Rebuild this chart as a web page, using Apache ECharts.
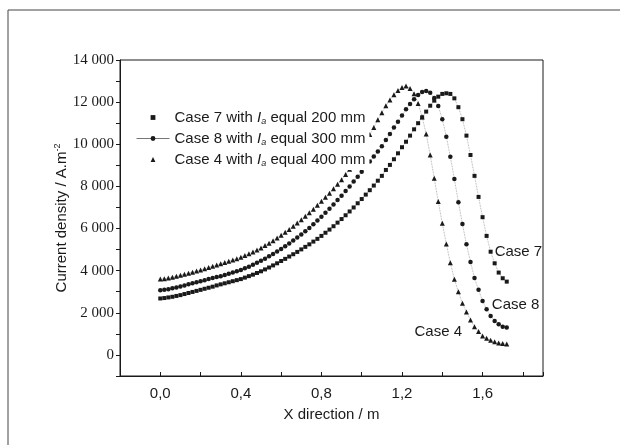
<!DOCTYPE html>
<html>
<head>
<meta charset="utf-8">
<script src="https://cdn.jsdelivr.net/npm/echarts@6/dist/echarts.min.js"></script>
<style>
  html, body { margin: 0; padding: 0; background: #fff; }
  #chart { width: 620px; height: 445px; }
</style>
</head>
<body>
<div id="chart"></div>
<script>
// x positions (m)
const xPos = [
  0.00, 0.02, 0.04, 0.06, 0.08, 0.10, 0.12, 0.14, 0.16, 0.18,
  0.20, 0.22, 0.24, 0.26, 0.28, 0.30, 0.32, 0.34, 0.36, 0.38,
  0.40, 0.42, 0.44, 0.46, 0.48, 0.50, 0.52, 0.54, 0.56, 0.58,
  0.60, 0.62, 0.64, 0.66, 0.68, 0.70, 0.72, 0.74, 0.76, 0.78,
  0.80, 0.82, 0.84, 0.86, 0.88, 0.90, 0.92, 0.94, 0.96, 0.98,
  1.00, 1.02, 1.04, 1.06, 1.08, 1.10, 1.12, 1.14, 1.16, 1.18,
  1.20, 1.22, 1.24, 1.26, 1.28, 1.30, 1.32, 1.34, 1.36, 1.38,
  1.40, 1.42, 1.44, 1.46, 1.48, 1.50, 1.52, 1.54, 1.56, 1.58,
  1.60, 1.62, 1.64, 1.66, 1.68, 1.70, 1.72
]

// current density, A.m-2
const case7 = [
  2680, 2700, 2730, 2760, 2800, 2840, 2890, 2940, 2990, 3040,
  3090, 3140, 3190, 3240, 3300, 3350, 3400, 3450, 3500, 3550,
  3600, 3670, 3740, 3810, 3890, 3970, 4060, 4150, 4250, 4350,
  4460, 4560, 4670, 4780, 4890, 5010, 5130, 5250, 5380, 5510,
  5650, 5800, 5950, 6110, 6280, 6450, 6630, 6810, 7000, 7200,
  7400, 7610, 7820, 8040, 8270, 8500, 8780, 9020, 9290, 9570,
  9860, 10120, 10410, 10710, 11000, 11280, 11550, 11830, 12070, 12260,
  12390, 12420, 12390, 12180, 11760, 11190, 10410, 9490, 8500, 7500,
  6540, 5650, 4900, 4350, 3910, 3640, 3480
]
const case8 = [
  3070, 3090, 3120, 3160, 3200, 3250, 3300, 3350, 3400, 3450,
  3500, 3550, 3600, 3650, 3700, 3740, 3800, 3850, 3910, 3970,
  4030, 4110, 4190, 4280, 4370, 4470, 4570, 4680, 4790, 4910,
  5030, 5160, 5290, 5430, 5570, 5720, 5870, 6030, 6200, 6380,
  6560, 6750, 6940, 7140, 7350, 7560, 7780, 8000, 8230, 8460,
  8700, 8940, 9180, 9420, 9660, 9910, 10200, 10490, 10790, 11070,
  11360, 11660, 11910, 12140, 12340, 12480, 12530, 12450, 12200, 11820,
  11190, 10360, 9410, 8350, 7250, 6220, 5250, 4410, 3650, 3090,
  2560, 2170, 1850, 1610, 1460, 1340, 1300
]
const case4 = [
  3600, 3620, 3650, 3690, 3730, 3780, 3830, 3880, 3930, 3980,
  4030, 4090, 4150, 4210, 4270, 4330, 4390, 4450, 4510, 4570,
  4640, 4720, 4800, 4890, 4980, 5080, 5190, 5300, 5420, 5550,
  5680, 5820, 5960, 6110, 6260, 6420, 6580, 6750, 6920, 7100,
  7290, 7480, 7680, 7890, 8100, 8320, 8560, 8820, 9140, 9470,
  9800, 10130, 10460, 10800, 11160, 11500, 11830, 12100, 12350, 12550,
  12690, 12760, 12650, 12400, 11940, 11300, 10490, 9490, 8390, 7280,
  6250, 5270, 4380, 3590, 3000, 2450, 2040, 1660, 1340, 1110,
  900, 790, 700, 620, 570, 540, 520
]

const seriesNames = [
  'Case 7 with Ia equal 200 mm',
  'Case 8 with Ia equal 300 mm',
  'Case 4 with Ia equal 400 mm'
]

const INK = '#1a1a1a'
const SANS = '"Liberation Sans", Arial, sans-serif'
const SERIF = '"Liberation Serif", "Times New Roman", serif'

// which point carries the "Case n" note
function withNote(values, noteIdx, label) {
  return values.map((v, i) => {
    const pt = [xPos[i], v]
    if (i !== noteIdx) return pt
    return { value: pt, label: Object.assign({ show: true, color: INK, fontFamily: SANS, fontSize: 15 }, label) }
  })
}

function curve(name, values, symbol, size, noteIdx, label) {
  return {
    name,
    type: 'line',
    data: withNote(values, noteIdx, label),
    symbol,
    symbolSize: size,
    showAllSymbol: true,
    itemStyle: { color: INK },
    lineStyle: { color: '#9a9a9a', width: 0.8, type: 'dotted' },
    emphasis: { disabled: true },
    z: 2,
  }
}

const legendRich = {
  n: { fontFamily: SANS, fontSize: 15, color: INK },
  i: { fontFamily: SANS, fontSize: 15, color: INK, fontStyle: 'italic' },
  s: { fontFamily: SANS, fontSize: 9, color: INK, fontStyle: 'italic', verticalAlign: 'bottom', padding: [8, 0, 0, 0] },
}

const noLine = { opacity: 0, width: 0 }

const chart = echarts.init(document.getElementById('chart'), null, { renderer: 'canvas' })
chart.setOption({
  animation: false,
  backgroundColor: '#fff',
  grid: { left: 120, right: 77, top: 60, bottom: 69, show: true, borderColor: INK, borderWidth: 1 },
  xAxis: {
    type: 'value',
    min: -0.2,
    max: 1.9,
    interval: 0.2,
    name: 'X direction / m',
    nameLocation: 'middle',
    nameGap: 31,
    nameTextStyle: { fontFamily: SANS, fontSize: 15, color: INK },
    axisLine: { onZero: false, lineStyle: { color: INK, width: 1 } },
    axisTick: { inside: true, length: 4, lineStyle: { color: INK } },
    splitLine: { show: false },
    axisLabel: {
      fontFamily: SANS,
      fontSize: 15,
      color: INK,
      margin: 10,
      formatter: (v) => {
        const t = Math.round(v * 10)
        if (t < 0 || t % 4 !== 0) return ''
        return (t / 10).toFixed(1).replace('.', ',')
      },
    },
  },
  yAxis: {
    type: 'value',
    min: -1000,
    max: 14000,
    interval: 1000,
    name: '{n|Current density / A.m}{p|-2}',
    nameLocation: 'middle',
    nameGap: 50,
    nameMoveOverlap: false,
    nameTextStyle: {
      rich: {
        n: { fontFamily: SANS, fontSize: 15, color: INK },
        p: { fontFamily: SANS, fontSize: 9, color: INK, verticalAlign: 'top', padding: [0, 0, 8, 0] },
      },
    },
    axisLine: { onZero: false, lineStyle: { color: INK, width: 1 } },
    axisTick: { length: 4, lineStyle: { color: INK } },
    splitLine: { show: false },
    axisLabel: {
      fontFamily: SERIF,
      fontSize: 15,
      color: INK,
      margin: 6,
      formatter: (v) => {
        if (v < 0 || v % 2000 !== 0) return ''
        return v === 0 ? '0' : (v / 1000) + ' 000'
      },
    },
  },
  legend: {
    orient: 'vertical',
    left: 136,
    top: 108,
    itemWidth: 33,
    itemHeight: 6,
    itemGap: 5,
    padding: [2, 4, 2, 0],
    backgroundColor: '#fff',
    z: 5,
    selectedMode: false,
    formatter: (name) => {
      const m = name.match(/^(Case \d with )Ia( equal \d+ mm)$/)
      return `{n|${m[1]}}{i|I}{s|a}{n|${m[2]}}`
    },
    textStyle: { rich: legendRich },
    data: [
      { name: seriesNames[0], lineStyle: noLine },
      { name: seriesNames[1], lineStyle: { type: 'solid', color: '#777', width: 1 } },
      { name: seriesNames[2], lineStyle: noLine },
    ],
  },
  graphic: [
    { type: 'line', shape: { x1: 8, y1: 10, x2: 620, y2: 10 }, style: { stroke: '#444', lineWidth: 1 } },
    { type: 'line', shape: { x1: 8, y1: 10, x2: 8, y2: 445 }, style: { stroke: '#444', lineWidth: 1 } },
  ],
  series: [
    curve(seriesNames[0], case7, 'rect', 4, 82, { formatter: 'Case 7', position: 'right', distance: 2 }),
    curve(seriesNames[1], case8, 'circle', 4.5, 81, { formatter: 'Case 8', position: 'right', distance: 3, offset: [0, -4] }),
    curve(seriesNames[2], case4, 'triangle', 5, 79, { formatter: 'Case 4', position: 'left', distance: 14 }),
  ],
})
</script>
</body>
</html>
